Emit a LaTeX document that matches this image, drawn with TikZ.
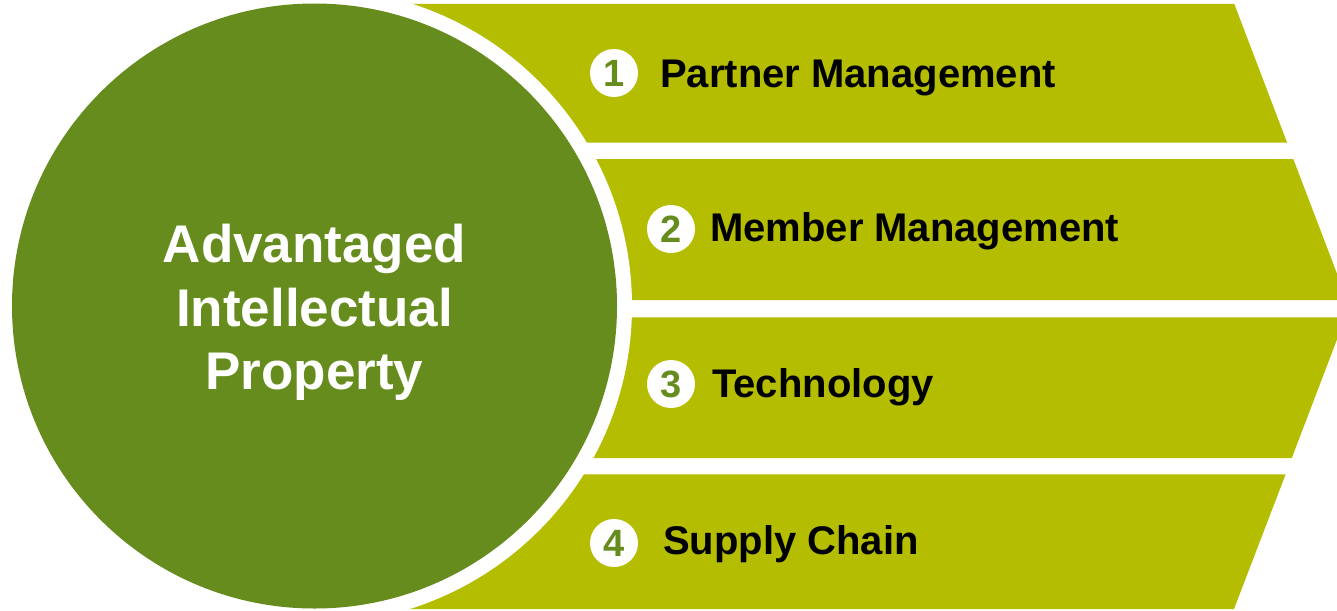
\documentclass[tikz,border=0pt]{standalone}
\usepackage{fontspec}
\setmainfont{Liberation Sans}
\definecolor{leafgreen}{HTML}{668C1E}
\definecolor{bandolive}{HTML}{B5BD00}
\begin{document}
\begin{tikzpicture}[x=1pt,y=-1pt,
  band/.style={fill=bandolive},
  numdisc/.style={circle,fill=white,minimum size=48pt,inner sep=0pt,
    text=leafgreen,font=\fontsize{38}{38}\selectfont\bfseries},
  itemtext/.style={anchor=base west,inner sep=0pt,
    font=\fontsize{40}{48}\selectfont\bfseries}]
\useasboundingbox (0,0) rectangle (1337,610);
\begin{scope}
  \clip (0,0) rectangle (1337,610);
  % chevron split into four bands; right edges meet at the tip (1349.5,306.5)
  \fill[band] (300,4) -- (1234.3,4) -- (1287.1,142.7) -- (300,142.7) -- cycle;
  \fill[band] (300,159) -- (1293.3,159) -- (1347,300) -- (300,300) -- cycle;
  \fill[band] (300,317.3) -- (1345.4,317.3) -- (1291.8,458) -- (300,458) -- cycle;
  \fill[band] (300,474.3) -- (1285.6,474.3) -- (1234,609) -- (300,609) -- cycle;
\end{scope}
% white ring separating the core from the bands
\node[circle,fill=white,inner sep=0pt,minimum size=635pt] (ring) at (314.5,306) {};
\node[circle,fill=leafgreen,inner sep=0pt,minimum size=605pt] (core) at (314.5,306) {};
\node[text=white,align=center,inner sep=0pt,
  font=\fontsize{53}{63.5}\selectfont\bfseries] (title) at (314.5,312.7)
  {Advantaged\\Intellectual\\Property};
% numbered items
\node[numdisc] (n1) at (614,73) {1};
\node[numdisc] (n2) at (671,229) {2};
\node[numdisc] (n3) at (671,384) {3};
\node[numdisc] (n4) at (614,543) {4};
\node[itemtext] (t1) at (660,87.3) {Partner Management};
\node[itemtext] (t2) at (710,241) {Member Management};
\node[itemtext] (t3) at (712,397.5) {Technology};
\node[itemtext] (t4) at (663,554.5) {Supply Chain};
\end{tikzpicture}
\end{document}
